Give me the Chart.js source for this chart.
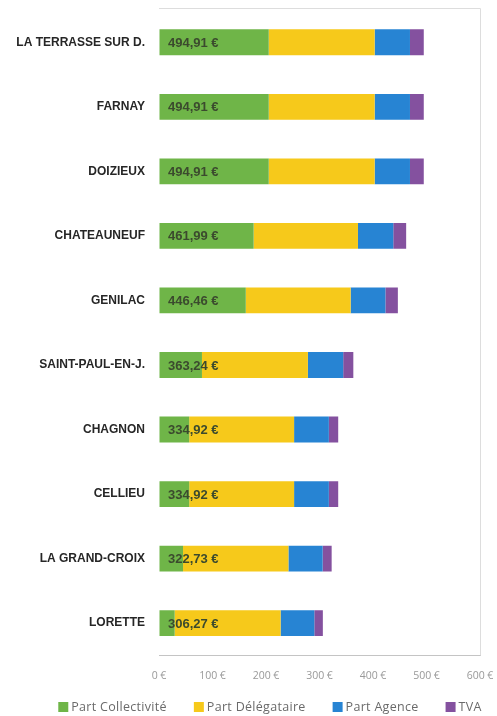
<!DOCTYPE html>
<html>
<head>
<meta charset="utf-8">
<script src="https://cdn.jsdelivr.net/npm/chart.js@4.4.1/dist/chart.umd.min.js"></script>
<style>
  html, body { margin: 0; padding: 0; background: #fff; }
  #wrap { width: 497px; height: 716px; position: relative; }
</style>
</head>
<body>
<div id="wrap"><canvas id="c" width="497" height="716"></canvas></div>
<script>
const categories = ["LA TERRASSE SUR D.", "FARNAY", "DOIZIEUX", "CHATEAUNEUF", "GENILAC", "SAINT-PAUL-EN-J.", "CHAGNON", "CELLIEU", "LA GRAND-CROIX", "LORETTE"];
const partCollectivite = [205.1, 205.1, 205.1, 176.9, 162.2, 80.3, 56.5, 56.5, 44.9, 29.3];
const partDelegataire = [198, 198, 198, 195, 196, 198, 196, 196, 197, 198];
const partAgence = [66, 66, 66, 66, 65, 66, 65, 65, 64, 63];
const tva = [25.80, 25.80, 25.80, 24.08, 23.27, 18.93, 17.46, 17.46, 16.82, 15.96];
const totals = [494.91, 494.91, 494.91, 461.99, 446.46, 363.24, 334.92, 334.92, 322.73, 306.27];
const xTicks = [0, 100, 200, 300, 400, 500, 600];
const seriesNames = ["Part Collectivité", "Part Délégataire", "Part Agence", "TVA"];
const seriesColors = ["#6fb548", "#f6c91b", "#2784d3", "#84519f"];

const fmtEuro = v => v.toFixed(2).replace('.', ',') + ' €';

const totalLabels = {
  id: 'totalLabels',
  afterDatasetsDraw(chart) {
    const ctx = chart.ctx;
    const meta = chart.getDatasetMeta(0);
    const x0 = chart.scales.x.getPixelForValue(0);
    ctx.save();
    ctx.font = 'bold 13px "Liberation Sans", Arial, sans-serif';
    ctx.fillStyle = '#3b4a2e';
    ctx.textAlign = 'left';
    ctx.textBaseline = 'middle';
    meta.data.forEach((bar, i) => {
      ctx.fillText(fmtEuro(totals[i]), x0 + 9, bar.y + 1);
    });
    ctx.restore();
  }
};

const frame = {
  id: 'frame',
  beforeDatasetsDraw(chart) {
    const a = chart.chartArea;
    const ctx = chart.ctx;
    ctx.save();
    ctx.strokeStyle = '#dddddd';
    ctx.lineWidth = 1;
    ctx.beginPath();
    ctx.moveTo(a.left, a.top - 1.5);
    ctx.lineTo(a.right + 0.5, a.top - 1.5);
    ctx.lineTo(a.right + 0.5, a.bottom);
    ctx.stroke();
    ctx.restore();
  }
};

// legend drawn below the axis, items taken from the datasets
const bottomLegend = {
  id: 'bottomLegend',
  afterDraw(chart) {
    const ctx = chart.ctx;
    ctx.save();
    ctx.font = '12.5px "Open Sans", sans-serif';
    if ('letterSpacing' in ctx) ctx.letterSpacing = '0.3px';
    ctx.textBaseline = 'middle';
    const box = 10, gapBoxText = 3, gapItems = 27;
    const items = chart.data.datasets.map(d => ({ text: d.label, color: d.backgroundColor, w: ctx.measureText(d.label).width }));
    const total = items.reduce((s, it) => s + box + gapBoxText + it.w, 0) + gapItems * (items.length - 1);
    let x = 270 - total / 2;
    const y = 707;
    items.forEach(it => {
      ctx.fillStyle = it.color;
      ctx.fillRect(x, y - box / 2, box, box);
      ctx.fillStyle = '#6a6a6a';
      ctx.fillText(it.text, x + box + gapBoxText, y);
      x += box + gapBoxText + it.w + gapItems;
    });
    ctx.restore();
  }
};

new Chart(document.getElementById('c'), {
  type: 'bar',
  data: {
    labels: categories,
    datasets: [
      { label: seriesNames[0], data: partCollectivite, backgroundColor: seriesColors[0] },
      { label: seriesNames[1], data: partDelegataire, backgroundColor: seriesColors[1] },
      { label: seriesNames[2], data: partAgence, backgroundColor: seriesColors[2] },
      { label: seriesNames[3], data: tva, backgroundColor: seriesColors[3] }
    ]
  },
  options: {
    indexAxis: 'y',
    responsive: false,
    animation: false,
    devicePixelRatio: 1,
    categoryPercentage: 0.8,
    barPercentage: 0.5,
    layout: { padding: { left: 0, right: 17, top: 10, bottom: 34 } },
    plugins: {
      tooltip: { enabled: false },
      legend: { display: false }
    },
    scales: {
      x: {
        stacked: true,
        min: 0,
        max: 600,
        afterBuildTicks: s => { s.ticks = xTicks.map(v => ({ value: v })); },
        grid: { display: true, drawOnChartArea: false, drawTicks: true, tickLength: 14, tickColor: 'rgba(0,0,0,0)', color: 'rgba(0,0,0,0)' },
        border: { display: true, color: '#c4c4c4' },
        ticks: {
          padding: 0,
          color: '#999999',
          font: { family: '"Open Sans", sans-serif', size: 10.5 },
          callback: v => v + ' €'
        }
      },
      y: {
        stacked: true,
        afterFit: s => { s.width = 159; },
        grid: { display: true, drawOnChartArea: false, drawTicks: true, tickLength: 14, tickColor: 'rgba(0,0,0,0)', color: 'rgba(0,0,0,0)' },
        border: { display: false },
        ticks: {
          padding: 0,
          color: '#262626',
          font: { family: '"Liberation Sans", Arial, sans-serif', size: 12, weight: 'bold' }
        }
      }
    }
  },
  plugins: [frame, totalLabels, bottomLegend]
});
</script>
</body>
</html>
